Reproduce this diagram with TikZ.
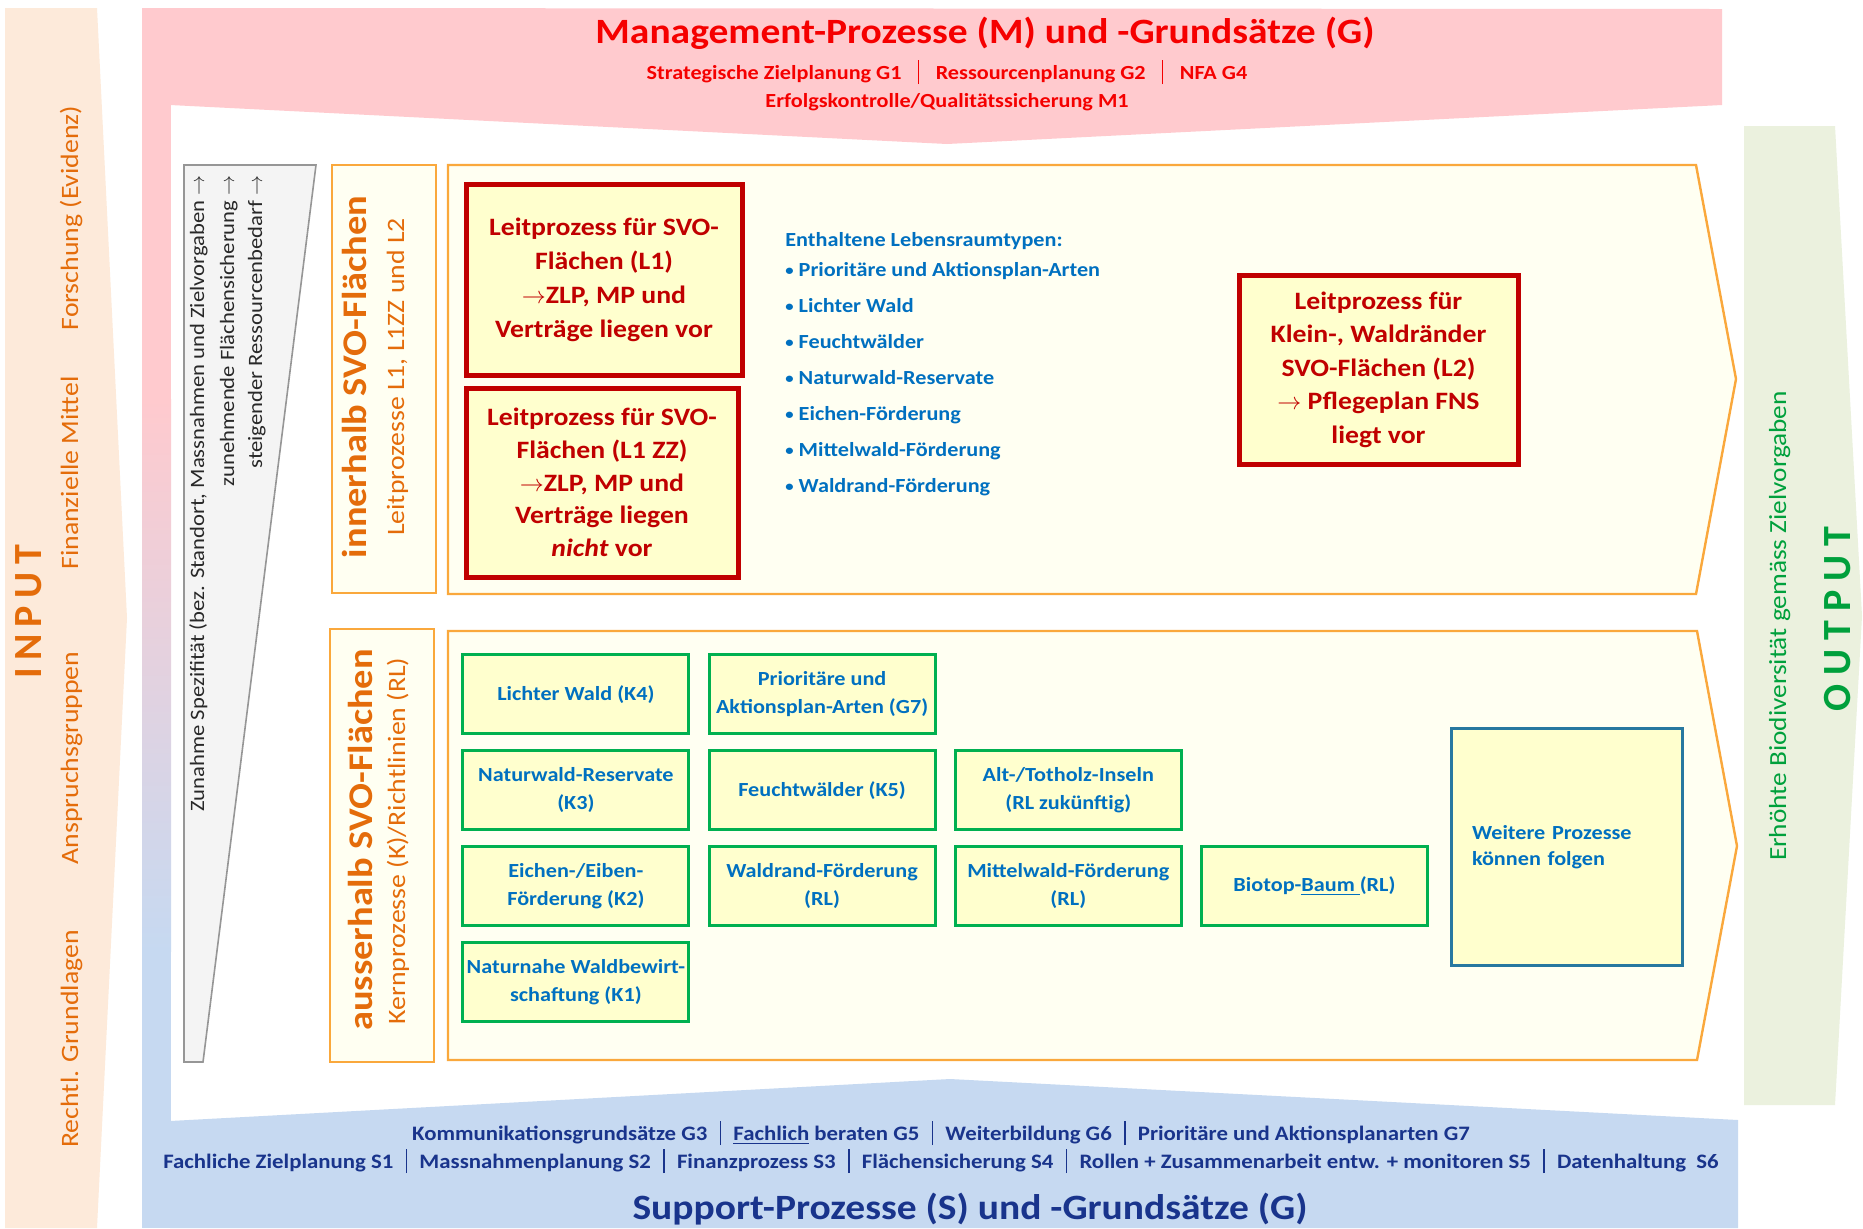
\documentclass[tikz,border=0pt]{standalone}
\usepackage{fontspec}
\setmainfont{Carlito}[FakeStretch=1.11]
\newfontfamily\plainfont{Carlito}
\usetikzlibrary{positioning}
\definecolor{inpeach}{RGB}{253,234,218}
\definecolor{inorange}{RGB}{228,108,10}
\definecolor{mgmtpink}{RGB}{255,202,206}
\definecolor{mgmtred}{RGB}{245,0,0}
\definecolor{suppblue}{RGB}{198,217,241}
\definecolor{supptext}{RGB}{25,52,140}
\definecolor{outgrey}{RGB}{235,241,222}
\definecolor{outgreen}{RGB}{0,160,60}
\definecolor{wedgegrey}{RGB}{244,244,244}
\definecolor{wedgeline}{RGB}{150,150,150}
\definecolor{wedgetext}{RGB}{40,40,40}
\definecolor{chevorange}{RGB}{250,168,60}
\definecolor{chevfill}{RGB}{255,255,242}
\definecolor{boxred}{RGB}{192,0,0}
\definecolor{boxfill}{RGB}{255,255,206}
\definecolor{kgreen}{RGB}{0,176,80}
\definecolor{textblue}{RGB}{0,112,192}
\definecolor{wblue}{RGB}{40,120,160}
\newcommand{\barsep}{\hspace{0.6em}\rule[-0.25em]{0.07em}{1.2em}\hspace{0.6em}}
\newcommand{\mbarsep}{\hspace{0.22em}\barsep\hspace{0.22em}}
\newcommand{\lrtbullet}{\raisebox{0.06em}{\scalebox{0.75}{•}}\ }

\begin{document}
\begin{tikzpicture}[x=0.5pt,y=-0.5pt]
	% `chevron' is used for the two big process arrows.
	% `kbox' is used for the core processes (green boxes).
	\tikzstyle{chevron} = [draw=chevorange,line width=1.2pt,fill=chevfill]
	\tikzstyle{labelbox} = [draw=chevorange,line width=1pt,fill=chevfill,inner sep=0pt]
	\tikzstyle{redbox} = [draw=boxred,line width=2.5pt,fill=boxfill,text=boxred,align=center,inner sep=0pt,font=\bfseries\fontsize{12.5}{17}\selectfont]
	\tikzstyle{kbox} = [draw=kgreen,line width=1.5pt,fill=boxfill,text=textblue,align=center,inner sep=0pt,minimum width=113pt,minimum height=39.5pt,font=\bfseries\fontsize{10}{14}\selectfont]
	\tikzstyle{vlabel} = [rotate=90,anchor=base,inner sep=0pt]
	\tikzstyle{mgmttext} = [anchor=base,inner sep=0pt,text=mgmtred]
	\tikzstyle{supptxt} = [anchor=base,inner sep=0pt,text=supptext]
	%
	\useasboundingbox (0,0) rectangle (1863,1228);
	\fill[white] (0,0) rectangle (1863,1228);
	% Input arrow on the left.
	\fill[inpeach] (5,8) -- (97,8) -- (127,618) -- (97,1228) -- (5,1228) -- cycle;
	% Management and support bands (left strip goes from pink to blue).
	\fill[mgmtpink] (142,8) rectangle (171,400);
	\shade[top color=mgmtpink,bottom color=suppblue] (142,399) rectangle (171,951);
	\fill[suppblue] (142,950) rectangle (171,1228);
	\fill[mgmtpink] (170,8) -- (1722,9) -- (1722,105) -- (947,144) -- (170,105) -- cycle;
	\fill[suppblue] (170,1121) -- (950,1079) -- (1738,1120) -- (1738,1228) -- (170,1228) -- cycle;
	% Output arrow on the right.
	\fill[outgrey] (1744,126) -- (1835,126) -- (1862,616) -- (1835,1105) -- (1744,1105) -- cycle;
	% Wedge of increasing specificity.
	\filldraw[fill=wedgegrey,draw=wedgeline,line width=0.8pt] (184,165) -- (316,165) -- (203,1062) -- (184,1062) -- cycle;
	%
	% Labels of the two process rows.
	\node[labelbox,minimum width=52pt,minimum height=214pt] (innerbox) at (384,379) {};
	\node[labelbox,minimum width=52pt,minimum height=216.5pt] (outerbox) at (382,845.5) {};
	% Process arrows.
	\filldraw[chevron] (448,165) -- (1696,165) -- (1736,379) -- (1696,594) -- (448,594) -- cycle;
	\filldraw[chevron] (448,631) -- (1697,631) -- (1737,846) -- (1697,1060) -- (448,1060) -- cycle;
	%
	% Management texts.
	\node[mgmttext,font=\bfseries\fontsize{17.8}{20}\selectfont] (mtitle) at (985,43) {Management-Prozesse (M) und -Grundsätze (G)};
	\node[mgmttext,font=\bfseries\fontsize{10}{12}\selectfont] (mline1) at (947,79) {Strategische Zielplanung G1\mbarsep Ressourcenplanung G2\mbarsep NFA G4};
	\node[mgmttext,font=\bfseries\fontsize{10}{12}\selectfont] (mline2) at (947,107) {Erfolgskontrolle/Qualitätssicherung M1};
	% Support texts.
	\node[supptxt,font=\bfseries\fontsize{10.27}{12}\selectfont] (sline1) at (941,1140) {Kommunikationsgrundsätze G3\barsep\underline{Fachlich} beraten G5\barsep Weiterbildung G6\barsep Prioritäre und Aktionsplanarten G7};
	\node[supptxt,font=\bfseries\fontsize{10.27}{12}\selectfont] (sline2) at (941,1168) {Fachliche Zielplanung S1\barsep Massnahmenplanung S2\barsep Finanzprozess S3\barsep Flächensicherung S4\barsep Rollen + Zusammenarbeit entw. + monitoren S5\barsep Datenhaltung\ \ S6};
	\node[supptxt,font=\bfseries\fontsize{17.8}{20}\selectfont] (stitle) at (970,1219) {Support-Prozesse (S) und -Grundsätze (G)};
	%
	% Input and output texts.
	\node[vlabel,text=inorange,font=\plainfont\bfseries\fontsize{20}{24}\selectfont] (input) at (41,612) {I\hspace{0.185em}N\hspace{0.185em}P\hspace{0.185em}U\hspace{0.185em}T};
	\node[vlabel,text=inorange,font=\fontsize{12.5}{15}\selectfont] (forsch) at (78,218) {Forschung (Evidenz)};
	\node[vlabel,text=inorange,font=\fontsize{12.5}{15}\selectfont] (mittel) at (78,473) {Finanzielle Mittel};
	\node[vlabel,text=inorange,font=\fontsize{12.5}{15}\selectfont] (anspr) at (78,758) {Anspruchsgruppen};
	\node[vlabel,text=inorange,font=\fontsize{12.5}{15}\selectfont] (recht) at (78,1039) {Rechtl. Grundlagen};
	\node[vlabel,text=outgreen,font=\plainfont\bfseries\fontsize{20}{24}\selectfont] (output) at (1850,619) {O U T P U T};
	\node[vlabel,text=outgreen,font=\fontsize{12.3}{14}\selectfont] (biodiv) at (1786,626) {Erhöhte Biodiversität gemäss Zielvorgaben};
	% Wedge texts.
	\node[vlabel,anchor=base east,text=wedgetext,font=\fontsize{10.2}{12}\selectfont] (spez) at (204,175) {Zunahme Spezifität (bez. Standort, Massnahmen und Zielvorgaben $\rightarrow$};
	\node[vlabel,anchor=base east,text=wedgetext,font=\fontsize{10.2}{12}\selectfont] (flaeche) at (234,175) {zunehmende Flächensicherung $\rightarrow$};
	\node[vlabel,anchor=base east,text=wedgetext,font=\fontsize{10.2}{12}\selectfont] (ressource) at (262,175) {steigender Ressourcenbedarf $\rightarrow$};
	% Row labels.
	\node[vlabel,text=inorange,font=\bfseries\fontsize{17.3}{19}\selectfont] (innertitle) at (366,377) {innerhalb SVO-Flächen};
	\node[vlabel,text=inorange,font=\fontsize{12.5}{14}\selectfont] (innersub) at (404,377) {Leitprozesse L1, L1ZZ und L2};
	\node[vlabel,text=inorange,font=\bfseries\fontsize{17.3}{19}\selectfont] (outertitle) at (372,840) {ausserhalb SVO-Flächen};
	\node[vlabel,text=inorange,font=\fontsize{12.5}{14}\selectfont] (outersub) at (405,841) {Kernprozesse (K)/Richtlinien (RL)};
	%
	% Leading processes.
	\node[redbox,minimum width=138pt,minimum height=95.5pt] (lone) at (604,279.5) {Leitprozess für SVO-\\Flächen (L1)\\$\rightarrow$ZLP, MP und\\Verträge liegen vor};
	\node[redbox,minimum width=136pt,minimum height=94.5pt,font=\bfseries\fontsize{12.5}{16.4}\selectfont] (lonezz) at (602,482.5) {Leitprozess für SVO-\\Flächen (L1 ZZ)\\$\rightarrow$ZLP, MP und\\Verträge liegen\\\textit{nicht} vor};
	\node[redbox,minimum width=139.5pt,minimum height=94.5pt,font=\bfseries\fontsize{12.5}{16.75}\selectfont] (ltwo) at (1378.5,369.5) {Leitprozess für\\Klein-, Waldränder\\SVO-Flächen (L2)\\$\rightarrow$\ Pflegeplan FNS\\liegt vor};
	\node[anchor=north west,align=left,inner sep=0pt,text=textblue,font=\bfseries\fontsize{10}{18}\selectfont] (habitats) at (785,232) {Enthaltene Lebensraumtypen:\\[-3pt]
		\lrtbullet Prioritäre und Aktionsplan-Arten\\
		\lrtbullet Lichter Wald\\
		\lrtbullet Feuchtwälder\\
		\lrtbullet Naturwald-Reservate\\
		\lrtbullet Eichen-Förderung\\
		\lrtbullet Mittelwald-Förderung\\
		\lrtbullet Waldrand-Förderung};
	%
	% Core processes.
	\matrix[row sep=7pt,column sep=8.6pt,inner sep=0pt,anchor=north west] (kern) at (461,653) {
	% First row.
		\node[kbox] (kfour) {Lichter Wald (K4)}; &
		\node[kbox] (gseven) {Prioritäre und\\Aktionsplan-Arten (G7)}; & & \\
	% Second row.
		\node[kbox] (kthree) {Naturwald-Reservate\\(K3)}; &
		\node[kbox] (kfive) {Feuchtwälder (K5)}; &
		\node[kbox] (totholz) {Alt-/Totholz-Inseln\\(RL zukünftig)}; & \\
	% Third row.
		\node[kbox] (ktwo) {Eichen-/Eiben-\\Förderung (K2)}; &
		\node[kbox] (waldrand) {Waldrand-Förderung\\(RL)}; &
		\node[kbox] (mittelwald) {Mittelwald-Förderung\\(RL)}; &
		\node[kbox] (biotop) {Biotop-\underline{Baum\ }(RL)}; \\
	% Last row.
		\node[kbox] (kone) {Naturnahe Waldbewirt-\\schaftung (K1)}; & & & \\
	};
	\node[draw=wblue,line width=1.5pt,fill=boxfill,text=textblue,align=left,text width=94.5pt,inner xsep=10.5pt,inner ysep=0pt,minimum height=118.5pt,font=\bfseries\fontsize{10}{13}\selectfont] (weitere) at (1566.5,847) {Weitere Prozesse\\können folgen};
\end{tikzpicture}
\end{document}
